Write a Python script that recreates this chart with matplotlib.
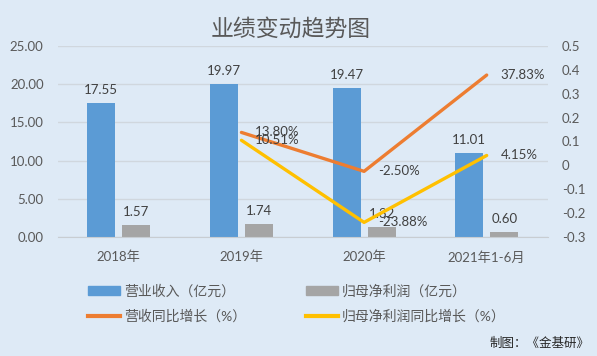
import numpy as np
import matplotlib
matplotlib.use("Agg")
import matplotlib.pyplot as plt
from matplotlib.ticker import FuncFormatter, MultipleLocator
from matplotlib.patches import Patch
from matplotlib.lines import Line2D

plt.rcParams['font.family'] = ['Lato', 'Noto Sans CJK SC', 'DejaVu Sans']

categories = ["2018年", "2019年", "2020年", "2021年1-6月"]
revenue = [17.55, 19.97, 19.47, 11.01]
net_profit = [1.57, 1.74, 1.32, 0.60]
rev_growth = [np.nan, 0.1380, -0.0250, 0.3783]
profit_growth = [np.nan, 0.1051, -0.2388, 0.0415]

BG = "#DEEAF6"
BLUE = "#5B9BD5"
GRAY = "#A5A5A5"
ORANGE = "#ED7D31"
YELLOW = "#FFC000"
TXT = "#595959"
LBL = "#404040"

fig = plt.figure(figsize=(5.97, 3.56), dpi=100, facecolor=BG)
W, H = 597, 356
ax = fig.add_axes([57.5 / W, 1 - 237 / H, (548 - 57.5) / W, 191 / H])
ax.set_facecolor(BG)

x = np.arange(len(categories))
bw = 0.228
off = 0.143
b1 = ax.bar(x - off, revenue, bw, color=BLUE, zorder=2)
b2 = ax.bar(x + off, net_profit, bw, color=GRAY, zorder=2)

for rect, v in zip(b1, revenue):
    ax.annotate(f"{v:.2f}", (rect.get_x() + rect.get_width() / 2, v),
                xytext=(0, 5), textcoords="offset points",
                ha="center", va="bottom", fontsize=9.5, color=LBL)
for rect, v in zip(b2, net_profit):
    ax.annotate(f"{v:.2f}", (rect.get_x() + rect.get_width() / 2, v),
                xytext=(0, 5), textcoords="offset points",
                ha="center", va="bottom", fontsize=9.5, color=LBL)

ax.set_ylim(0, 25)
ax.yaxis.set_major_locator(MultipleLocator(5))
ax.yaxis.set_major_formatter(FuncFormatter(lambda v, p: f"{v:.2f}"))
ax.set_xlim(-0.5, 3.5)
ax.set_xticks(x)
ax.set_xticklabels(categories)
ax.grid(axis="y", color="#D0D7DE", lw=1, zorder=0)
for s in ["top", "right", "left"]:
    ax.spines[s].set_visible(False)
ax.spines["bottom"].set_color("#C8CDD2")
ax.tick_params(axis="both", length=0, labelsize=9.5, colors=TXT)
ax.tick_params(axis="y", pad=10)
ax.tick_params(axis="x", pad=10)

ax2 = ax.twinx()
ax2.set_ylim(-0.3, 0.5)
ax2.yaxis.set_major_locator(MultipleLocator(0.1))
ax2.yaxis.set_major_formatter(FuncFormatter(lambda v, p: "0" if abs(v) < 1e-9 else f"{v:.1f}"))
for s in ax2.spines.values():
    s.set_visible(False)
ax2.tick_params(axis="y", length=0, labelsize=9.5, colors=TXT, pad=10)

ax2.plot(x, rev_growth, color=ORANGE, lw=2.4, solid_capstyle="round", zorder=3)
ax2.plot(x, profit_growth, color=YELLOW, lw=2.4, solid_capstyle="round", zorder=3)

for xi, v in zip(x, rev_growth):
    if not np.isnan(v):
        ax2.annotate(f"{v * 100:.2f}%", (xi, v), xytext=(10, 0), textcoords="offset points",
                     ha="left", va="center", fontsize=9.5, color=LBL)
for xi, v in zip(x, profit_growth):
    if not np.isnan(v):
        ax2.annotate(f"{v * 100:.2f}%", (xi, v), xytext=(10, 0), textcoords="offset points",
                     ha="left", va="center", fontsize=9.5, color=LBL)

fig.text(291 / W, 1 - 29 / H, "业绩变动趋势图", ha="center", va="center",
         fontsize=16.5, color=TXT)

handles = [
    Patch(color=BLUE, label="营业收入（亿元）"),
    Line2D([], [], color=ORANGE, lw=3, label="营收同比增长（%）"),
    Patch(color=GRAY, label="归母净利润（亿元）"),
    Line2D([], [], color=YELLOW, lw=3, label="归母净利润同比增长（%）"),
]
fig.legend(handles=handles, ncol=2, loc="upper left",
           bbox_to_anchor=(88 / W, 1 - 284 / H), frameon=False,
           fontsize=10, labelcolor=TXT, handlelength=2.3, handleheight=0.6,
           handletextpad=0.3, columnspacing=4.3, labelspacing=0.85,
           borderpad=0, borderaxespad=0)

fig.text(590 / W, 1 - 343 / H, "制图：《金基研》", ha="right", va="center",
         fontsize=9, color="#262626")

fig.savefig("out.png", dpi=100, facecolor=BG)
